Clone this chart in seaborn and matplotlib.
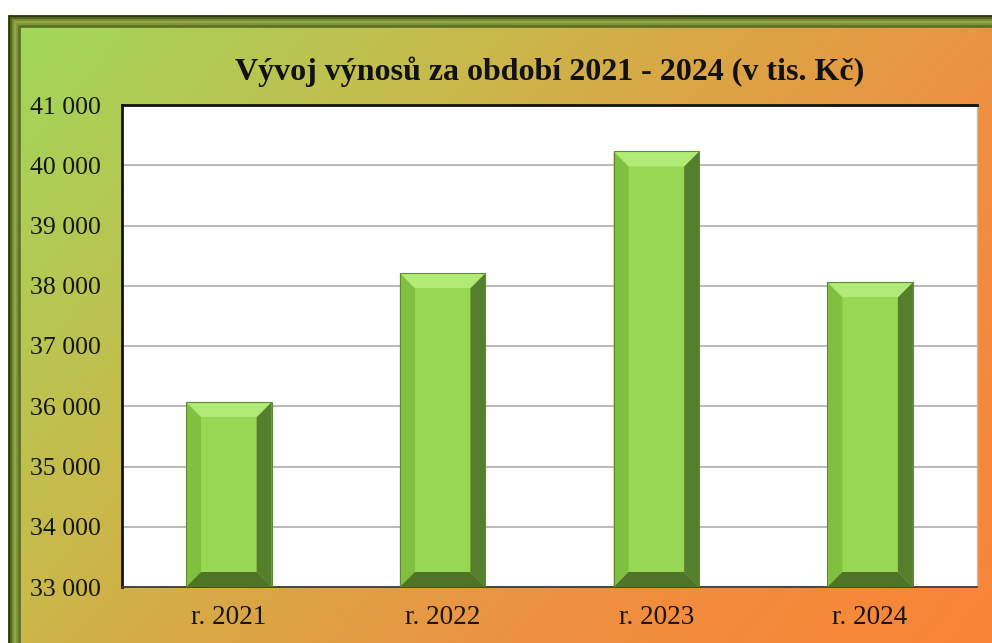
import numpy as np
import matplotlib
matplotlib.use("Agg")
import matplotlib.pyplot as plt
import seaborn as sns
import pandas as pd
from matplotlib.colors import LinearSegmentedColormap
from matplotlib.patches import Polygon

# ---- data ----
years = ["r. 2021", "r. 2022", "r. 2023", "r. 2024"]
values = [36070, 38210, 40230, 38060]
ytick_values = [33000, 34000, 35000, 36000, 37000, 38000, 39000, 40000, 41000]
ytick_labels = ["33 000", "34 000", "35 000", "36 000", "37 000",
                "38 000", "39 000", "40 000", "41 000"]
title = "Vývoj výnosů za období 2021 - 2024 (v tis. Kč)"

sns.set_theme(style="white")
plt.rcParams['font.family'] = ['Liberation Serif', 'DejaVu Serif']

W, H = 992, 643
fig = plt.figure(figsize=(W / 100, H / 100), dpi=100)
fig.patch.set_facecolor("white")

# ---- background frame with gradient ----
bg = fig.add_axes([0, 0, 1, 1])
bg.set_xlim(0, W)
bg.set_ylim(H, 0)
bg.axis("off")
cmap = LinearSegmentedColormap.from_list(
    "bg", [(0, "#9ed95b"), (0.33, "#c9b94b"), (0.5, "#dca445"),
           (0.7, "#ee9040"), (1.0, "#fb8436")])
gx, gy = np.meshgrid(np.linspace(0, 1, 300), np.linspace(0, 1, 300))
grad = 0.65 * gx + 0.35 * gy
bg.imshow(grad, cmap=cmap, extent=[8, W, H, 15], aspect="auto",
          interpolation="bilinear", zorder=0)
# bevel border (left and top)
bevel_cols = ["#2f3a10", "#55661e", "#7c8f35", "#93a845", "#7f9438", "#5e7226"]
for i, c in enumerate(bevel_cols):
    bg.plot([8 + i * 2 + 1, 8 + i * 2 + 1], [15 + i * 2, H], color=c, lw=2,
            solid_capstyle="butt", zorder=1)
    bg.plot([8 + i * 2, W], [15 + i * 2 + 1, 15 + i * 2 + 1], color=c, lw=2,
            solid_capstyle="butt", zorder=1)

# ---- plot area ----
L, R, T, B = 122, 977, 105, 587
ax = fig.add_axes([L / W, (H - B) / H, (R - L) / W, (B - T) / H])
ax.set_facecolor("white")

df = pd.DataFrame({"year": years, "value": values})
sns.barplot(data=df, x="year", y="value", color="#97d753", saturation=1,
            width=0.4, ax=ax, zorder=2, edgecolor="none")

ax.set_ylim(ytick_values[0], ytick_values[-1])
ax.set_xlim(-0.5, len(years) - 0.5)
ax.set_yticks(ytick_values)
ax.set_yticklabels(ytick_labels)
ax.set_xlabel("")
ax.set_ylabel("")
ax.yaxis.grid(True, color="#a6a6a6", lw=1.1, zorder=0)
ax.set_axisbelow(True)

ax.set_xticks(np.arange(-0.5, len(years)), minor=True)
ax.tick_params(axis="x", which="major", length=0, pad=13, labelsize=19.5,
               labelcolor="#151515")
ax.tick_params(axis="x", which="minor", length=6, color="#8a8a8a", width=1)
ax.tick_params(axis="y", which="major", length=6, color="#8a8a8a", width=1,
               pad=9, labelsize=18.5, labelcolor="#151515")

for s in ["left", "top"]:
    ax.spines[s].set_color("#111111")
    ax.spines[s].set_linewidth(2)
ax.spines["right"].set_color("#bdbdbd")
ax.spines["right"].set_linewidth(1)
ax.spines["bottom"].set_color("#3c3c3c")
ax.spines["bottom"].set_linewidth(1.3)

# ---- bevel effect on bars (derived from patch geometry) ----
ylo, yhi = ax.get_ylim()
px_per_y = (B - T) / (yhi - ylo)
px_per_x = (R - L) / (len(years))
bev = 15
dx = bev / px_per_x
dy = bev / px_per_y
for p in ax.patches:
    x0 = p.get_x()
    x1 = x0 + p.get_width()
    top = p.get_y() + p.get_height()
    bot = max(p.get_y(), ylo)
    faces = [
        ([(x0, bot), (x0, top), (x0 + dx, top - dy), (x0 + dx, bot + dy)], "#80c040"),
        ([(x1, bot), (x1, top), (x1 - dx, top - dy), (x1 - dx, bot + dy)], "#557f2c"),
        ([(x0, top), (x1, top), (x1 - dx, top - dy), (x0 + dx, top - dy)], "#b2ea78"),
        ([(x0, bot), (x1, bot), (x1 - dx, bot + dy), (x0 + dx, bot + dy)], "#4f7427"),
    ]
    for pts, c in faces:
        ax.add_patch(Polygon(pts, closed=True, facecolor=c, edgecolor="none",
                             zorder=3))
    ax.add_patch(Polygon([(x0, bot), (x0, top), (x1, top), (x1, bot)],
                         closed=True, facecolor="none", edgecolor="#5f8a30",
                         lw=0.8, zorder=4))

fig.text((L + R) / 2 / W, 1 - 72 / H, title, ha="center", va="center",
         fontsize=23, fontweight="bold", color="#111111")

fig.savefig("out.png", dpi=100)
